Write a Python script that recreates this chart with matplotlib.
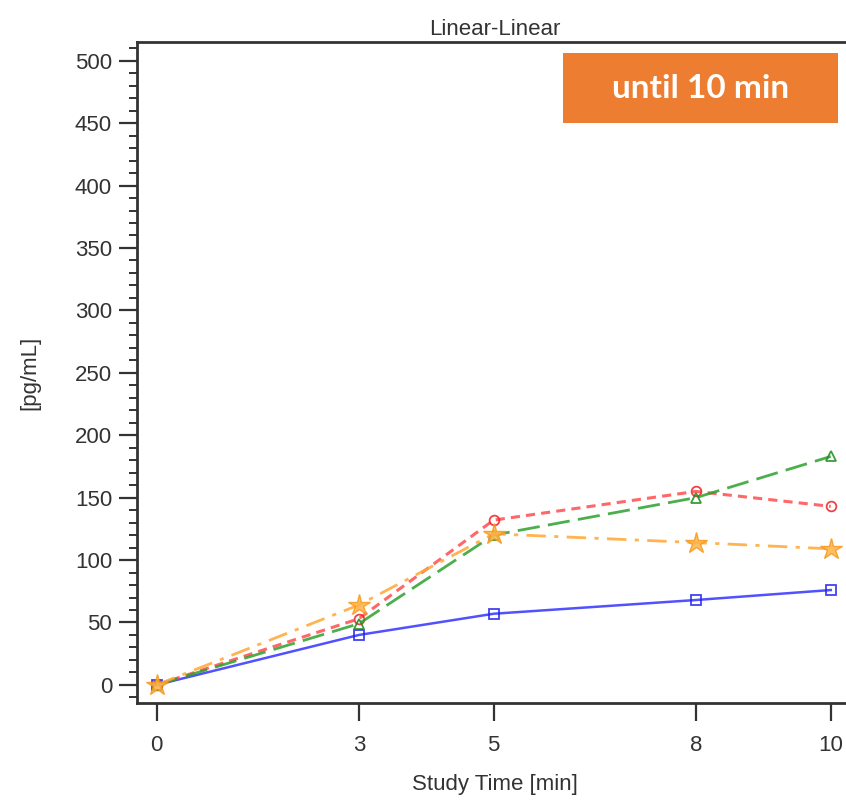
import matplotlib
matplotlib.use('Agg')
import matplotlib.pyplot as plt
from matplotlib.ticker import MultipleLocator
from matplotlib.patches import Rectangle

times = [0, 3, 5, 8, 10]
blue_sq = [0, 40, 57, 68, 76]
red_circ = [0, 53, 132, 155, 143]
green_tri = [0, 49, 120, 150, 183]
orange_star = [0, 64, 121, 114, 109]

plt.rcParams['font.family'] = ['Liberation Sans', 'DejaVu Sans']

fig = plt.figure(figsize=(8.46, 8.01), dpi=100)
# axes runs a little past the right edge of the figure, like the cropped original
ax = fig.add_axes([137 / 846, 1 - 703 / 801, (853 - 137) / 846, (703 - 42) / 801])

ax.plot(times, blue_sq, '-', color='#3333ff', lw=1.8, alpha=0.85,
        marker='s', ms=7, mfc='none', mec='#2222ee', mew=1.3)
ax.plot(times, red_circ, color='#ff4d4d', lw=2.2, alpha=0.85, dashes=(3, 2),
        marker='o', ms=7, mfc='none', mec='#ee2222', mew=1.3)
ax.plot(times, green_tri, color='#2ca02c', lw=2.0, alpha=0.85, dashes=(8, 3),
        marker='^', ms=7, mfc='none', mec='#1a8a1a', mew=1.3)
ax.plot(times, orange_star, color='#ffa733', lw=2.0, alpha=0.85, dashes=(7, 3, 1.5, 3),
        marker='*', ms=16, mfc='#ffb347', mec='#f59a1b', mew=1.0)

ax.set_xlim(-0.29, 10.33)
ax.set_ylim(-14.5, 515)
ax.set_xticks(times)
ax.yaxis.set_major_locator(MultipleLocator(50))
ax.yaxis.set_minor_locator(MultipleLocator(10))

for s in ['top', 'left', 'bottom']:
    ax.spines[s].set_color('#333333')
    ax.spines[s].set_linewidth(2.0)
ax.spines['right'].set_visible(False)

ax.tick_params(axis='both', which='major', length=13, width=1.6, color='#333333',
               labelsize=16, labelcolor='#333333', pad=5)
ax.tick_params(axis='y', which='minor', length=6, width=1.4, color='#333333')
ax.tick_params(axis='x', pad=10)

ax.set_title('Linear-Linear', fontsize=16, color='#333333', pad=5)
ax.set_xlabel('Study Time [min]', fontsize=16, color='#333333', labelpad=13)
ax.set_ylabel('[pg/mL]', fontsize=16, color='#333333', labelpad=25)

# orange label box
fig.patches.append(Rectangle((563 / 846, 1 - 123 / 801), 275 / 846, 70 / 801,
                             transform=fig.transFigure, facecolor='#ed7d31',
                             edgecolor='none', zorder=5))
fig.text((563 + 838) / 2 / 846, 1 - 89 / 801, 'until 10 min', ha='center', va='center',
         color='white', fontsize=24, fontweight='bold', family=['Lato', 'DejaVu Sans'],
         zorder=6)

fig.savefig('out.png', dpi=100)
